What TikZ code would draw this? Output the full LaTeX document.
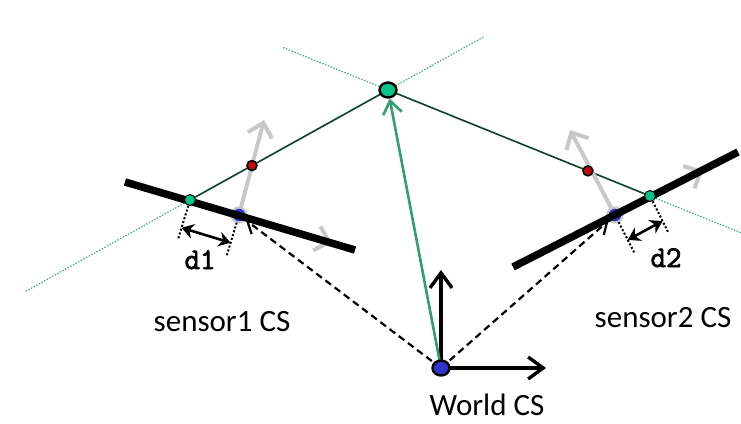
\documentclass[tikz,border=0pt]{standalone}
\usepackage{fontspec}
\setmainfont{Carlito}
\newfontfamily\dimfont[FakeBold=2.5]{Latin Modern Mono}
\usetikzlibrary{arrows.meta,calc,shapes.geometric}
\definecolor{linegreen}{RGB}{20,65,45}
\definecolor{extgreen}{RGB}{60,170,120}
\definecolor{arrgreen}{RGB}{50,160,110}
\definecolor{dotgreen}{RGB}{10,195,140}
\definecolor{dotred}{RGB}{190,10,10}
\definecolor{dotblue}{RGB}{50,50,210}
\definecolor{axisgray}{RGB}{200,200,200}
\tikzset{
  extline/.style={extgreen, line width=1.1pt, dash pattern=on 1.5pt off 1.5pt},
  conline/.style={linegreen, line width=1.6pt},
  grayaxis/.style={axisgray, line width=4pt, -{Straight Barb[length=13pt,width=25pt]}},
  worldaxis/.style={black, line width=3.4pt, -{Straight Barb[length=15pt,width=22pt]}},
  dasharrow/.style={black, line width=2.2pt, dash pattern=on 7pt off 4.5pt, -{Straight Barb[length=11pt,width=15pt]}},
  greenarrow/.style={arrgreen, line width=2.6pt, -{Straight Barb[length=13pt,width=19pt]}},
  sensorbar/.style={black, line width=7.5pt},
  dimdots/.style={black, line width=2pt, dash pattern=on 2pt off 2pt},
  dimarrow/.style={black, line width=2.6pt, {Stealth[length=12pt,width=15pt]}-{Stealth[length=12pt,width=15pt]}},
  gdot/.style={circle, draw=black, line width=1pt, fill=dotgreen, minimum size=11pt, inner sep=0pt},
  rdot/.style={circle, draw=black, line width=1.5pt, fill=dotred, minimum size=10pt, inner sep=0pt},
  sorigin/.style={circle, draw=axisgray, line width=2.2pt, fill=dotblue, minimum size=15pt, inner sep=0pt},
  bigdot/.style={ellipse, draw=black, line width=2.4pt, minimum width=17pt, minimum height=15pt, inner sep=0pt},
  lbl/.style={font=\fontsize{31}{36}\selectfont, anchor=base, inner sep=0pt},
  dimlbl/.style={font=\dimfont\fontsize{30}{34}\selectfont, anchor=base, inner sep=0pt}
}
\begin{document}
\begin{tikzpicture}[x=1pt,y=-1pt]
\useasboundingbox (0,0) rectangle (741,423);
% positions
\coordinate (w) at (441,368);
\coordinate (p) at (388,90);
\coordinate (g1) at (190,200);
\coordinate (g2) at (650,196);
\coordinate (s1) at (239,215);
\coordinate (s2) at (615,215);
\coordinate (b1a) at (125,182);
\coordinate (b1b) at (355,250);
\coordinate (b2a) at (513,267);
\coordinate (b2b) at (738,152);
\coordinate (t1y) at (264,120);
\coordinate (t1x) at (332,243);
\coordinate (t2y) at (570,130);
\coordinate (t2x) at (703,170);
\coordinate (wy) at (441,270);
\coordinate (wx) at (546,368);
\coordinate (e1a) at ($(g1)!-0.83!(p)$);
\coordinate (e1b) at ($(g1)!1.48!(p)$);
\coordinate (e2a) at ($(p)!-0.4!(g2)$);
\coordinate (e2b) at ($(p)!1.36!(g2)$);
% extension lines
\draw[extline] (e1a) -- (e1b);
\draw[extline] (e2a) -- (e2b);
% connectors to the target
\draw[conline] (g1) -- (p);
\draw[conline] (p) -- (g2);
% sensor axes
\draw[grayaxis] (s1) -- (t1y);
\draw[grayaxis] (s1) -- (t1x);
\draw[grayaxis] (s2) -- (t2y);
\draw[grayaxis] (s2) -- (t2x);
\node[sorigin] (S1) at (s1) {};
\node[sorigin] (S2) at (s2) {};
% world to sensor
\draw[dasharrow] (w) -- (S1);
\draw[dasharrow] (w) -- (S2);
% sensor bars
\draw[sensorbar] (b1a) -- (b1b);
\draw[sensorbar] (b2a) -- (b2b);
% dots
\node[gdot] (G1) at (g1) {};
\node[gdot] (G2) at (g2) {};
\node[rdot] (R1) at ($(g1)!0.313!(p)$) {};
\node[rdot] (R2) at ($(p)!0.763!(g2)$) {};
\node[bigdot, fill=dotgreen] (P) at (p) {};
% world axes
\draw[worldaxis] (w) -- (wy);
\draw[worldaxis] (w) -- (wx);
\draw[greenarrow] (w) -- (P);
\node[bigdot, fill=dotblue] (W) at (w) {};
% dimension d1
\coordinate (d1a) at ($(g1)!6pt!-90:(b1b)$);
\coordinate (d1b) at ($(g1)!41pt!-90:(b1b)$);
\coordinate (d1c) at ($(s1)!8pt!-90:(b1b)$);
\coordinate (d1d) at ($(s1)!43pt!-90:(b1b)$);
\coordinate (d1e) at ($(g1)!29pt!-90:(b1b)$);
\coordinate (d1f) at ($(s1)!29pt!-90:(b1b)$);
\draw[dimdots] (d1a) -- (d1b);
\draw[dimdots] (d1c) -- (d1d);
\draw[dimarrow] (d1e) -- (d1f);
\node[dimlbl] (D1) at (200,269) {d1};
% dimension d2
\coordinate (d2a) at ($(g2)!6pt!-90:(b2b)$);
\coordinate (d2b) at ($(g2)!41pt!-90:(b2b)$);
\coordinate (d2c) at ($(s2)!8pt!-90:(b2b)$);
\coordinate (d2d) at ($(s2)!43pt!-90:(b2b)$);
\coordinate (d2e) at ($(s2)!28pt!-90:(b2b)$);
\coordinate (d2f) at ($(g2)!28pt!-90:(b2b)$);
\draw[dimdots] (d2a) -- (d2b);
\draw[dimdots] (d2c) -- (d2d);
\draw[dimarrow] (d2e) -- (d2f);
\node[dimlbl] (D2) at (666,267) {d2};
% labels
\node[lbl] (L1) at (222,331) {sensor1 CS};
\node[lbl] (L2) at (663,327) {sensor2 CS};
\node[lbl] (L3) at (487,415) {World CS};
\end{tikzpicture}
\end{document}
